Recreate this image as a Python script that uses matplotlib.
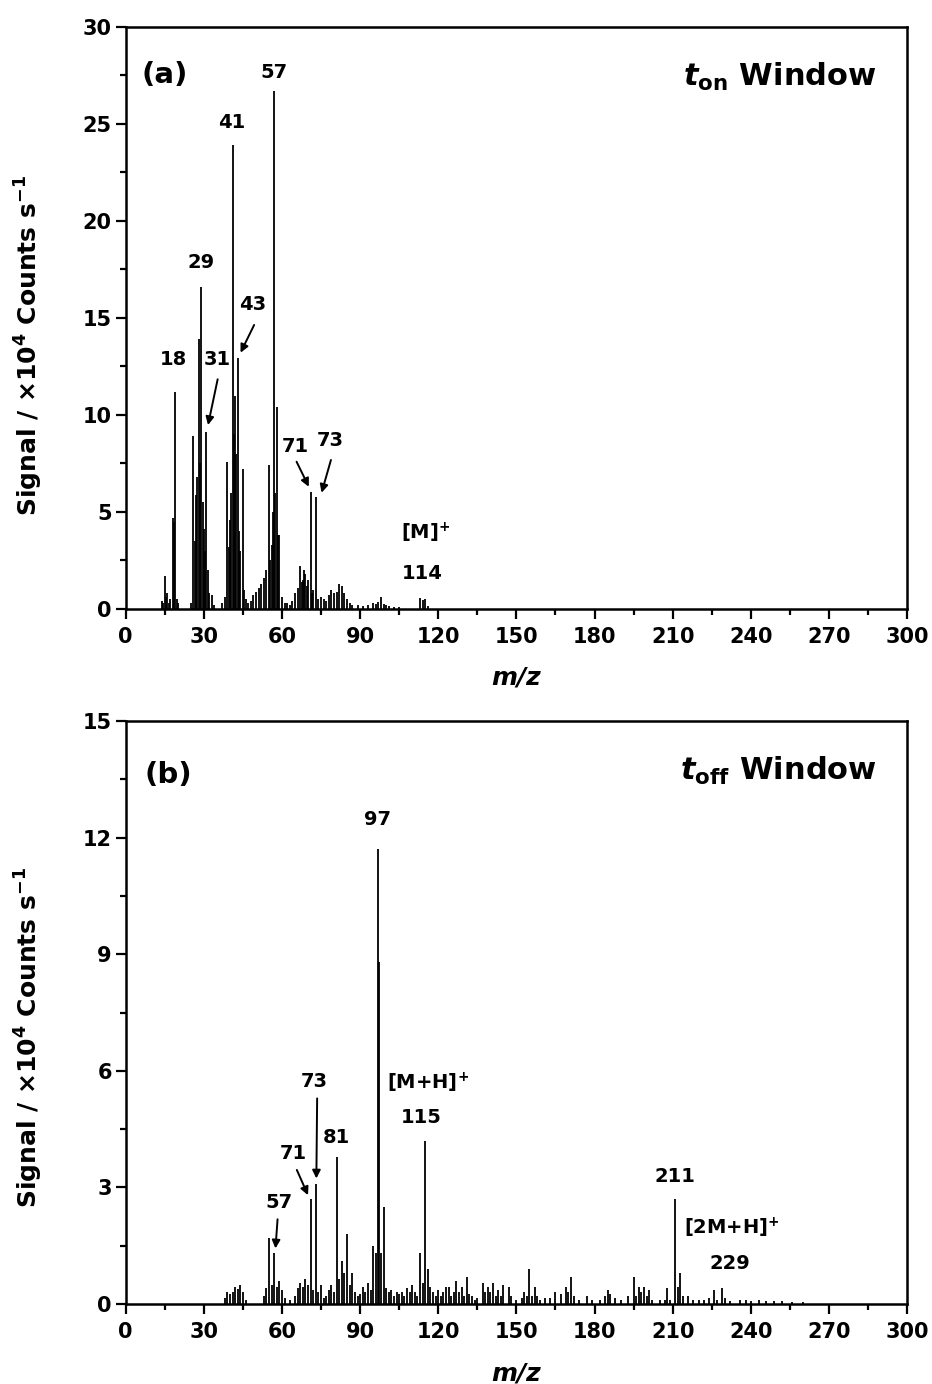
import matplotlib
matplotlib.use("Agg")
import matplotlib.pyplot as plt
from matplotlib.ticker import MultipleLocator

plt.rcParams['font.family'] = ['DejaVu Sans']
plt.rcParams['font.weight'] = 'bold'
plt.rcParams['mathtext.fontset'] = 'custom'
plt.rcParams['mathtext.rm'] = 'DejaVu Sans:bold'
plt.rcParams['mathtext.it'] = 'DejaVu Sans:italic:bold'
plt.rcParams['mathtext.bf'] = 'DejaVu Sans:bold'
plt.rcParams['mathtext.default'] = 'rm'

# ---------------- data: panel (a) t_on window ----------------
mz_a = [14, 14.5, 15, 15.5, 16, 16.5, 17, 18, 18.5, 19, 19.5, 20, 25,
        26, 26.5, 27, 27.5, 28, 28.5, 29, 29.5, 30, 30.5, 31, 31.5, 32, 33, 34,
        37, 38, 39, 39.5, 40, 40.5, 41, 41.5, 42, 42.5, 43, 43.5, 44, 45, 45.5,
        46, 47, 48, 49, 50, 51, 52, 53, 54, 55, 55.5, 56, 56.5, 57, 57.5, 58,
        58.5, 59, 60, 61, 62, 63, 64, 65, 66, 67, 67.5, 68, 68.5, 69, 69.5, 70,
        71, 71.5, 72, 73, 74, 75, 76, 77, 78, 79, 80, 81, 82, 83, 84, 85, 86,
        87, 89, 91, 93, 95, 96, 97, 98, 99, 100, 101, 103, 105, 113, 114, 115,
        116]
sig_a = [0.4, 0.3, 1.7, 0.6, 0.8, 0.3, 0.5, 4.7, 4.5, 11.2, 0.5, 0.3, 0.3,
         8.9, 3.5, 5.9, 6.8, 13.9, 7.5, 16.6, 5.5, 4.1, 3.0, 9.1, 2.0, 0.8, 0.7, 0.2,
         0.3, 0.6, 7.6, 3.2, 4.6, 6.0, 23.9, 9.0, 11.0, 8.0, 12.95, 4.0, 3.0, 7.2, 1.0,
         0.5, 0.3, 0.4, 0.7, 0.9, 1.1, 1.3, 1.6, 2.0, 7.4, 2.5, 3.3, 5.0, 26.7, 6.0, 10.4,
         3.8, 3.8, 0.6, 0.3, 0.3, 0.2, 0.4, 0.8, 1.1, 2.2, 1.4, 1.5, 2.0, 1.8, 1.2, 1.5,
         6.05, 0.8, 1.0, 5.75, 0.5, 0.6, 0.5, 0.4, 0.7, 1.0, 0.8, 0.9, 1.3, 1.2, 0.8, 0.5, 0.3,
         0.2, 0.2, 0.15, 0.2, 0.3, 0.25, 0.35, 0.6, 0.25, 0.2, 0.15, 0.1, 0.1, 0.55, 0.45, 0.5,
         0.15]

# ---------------- data: panel (b) t_off window ----------------
mz_b = [38, 39, 40, 41, 42, 43, 44, 45, 46, 53, 54, 55, 56, 57, 58, 59, 60, 61,
        63, 65, 66, 67, 68, 69, 70, 71, 72, 73, 74, 75, 76, 77, 78, 79, 80, 81,
        82, 83, 84, 85, 86, 87, 88, 89, 90, 91, 92, 93, 94, 95, 96, 97, 97.3, 98,
        99, 100, 101, 102, 103, 104, 105, 106, 107, 108, 109, 110, 111, 112, 113,
        114, 115, 116, 117, 118, 119, 120, 121, 122, 123, 124, 125, 126, 127, 128,
        129, 130, 131, 132, 133, 134, 135, 137, 138, 139, 140, 141, 142, 143, 144,
        145, 147, 148, 150, 152, 153, 154, 155, 156, 157, 158, 159, 161, 163, 165,
        167, 169, 170, 171, 172, 174, 177, 179, 182, 184, 185, 186, 188, 190, 193,
        195, 196, 197, 198, 199, 200, 201, 202, 205, 207, 208, 209, 211, 212, 213,
        214, 216, 218, 220, 222, 224, 226, 227, 229, 230, 232, 236, 238, 240, 243,
        246, 249, 252, 256, 260]
sig_b = [0.15, 0.3, 0.25, 0.3, 0.45, 0.38, 0.49, 0.3, 0.1, 0.2, 0.4, 1.69, 0.5, 1.30,
         0.45, 0.6, 0.35, 0.15, 0.1, 0.2, 0.4, 0.55, 0.45, 0.65, 0.5, 2.7, 0.35, 3.1,
         0.3, 0.5, 0.15, 0.2, 0.35, 0.5, 0.3, 3.79, 0.65, 1.1, 0.8, 1.8, 0.5, 0.8, 0.3,
         0.2, 0.25, 0.45, 0.3, 0.55, 0.35, 1.49, 1.3, 11.7, 8.8, 1.3, 2.49, 0.4, 0.3,
         0.35, 0.2, 0.3, 0.25, 0.3, 0.2, 0.4, 0.3, 0.5, 0.3, 0.2, 1.3, 0.55, 4.2, 0.9,
         0.45, 0.3, 0.2, 0.37, 0.2, 0.3, 0.45, 0.45, 0.2, 0.3, 0.6, 0.3, 0.45, 0.2, 0.7,
         0.25, 0.2, 0.1, 0.15, 0.55, 0.3, 0.45, 0.3, 0.55, 0.2, 0.35, 0.2, 0.5, 0.45,
         0.2, 0.1, 0.15, 0.3, 0.2, 0.9, 0.2, 0.45, 0.2, 0.1, 0.15, 0.15, 0.3, 0.25, 0.45,
         0.3, 0.7, 0.2, 0.1, 0.2, 0.1, 0.1, 0.2, 0.35, 0.25, 0.15, 0.1, 0.2, 0.7, 0.2,
         0.45, 0.3, 0.45, 0.2, 0.37, 0.1, 0.1, 0.1, 0.4, 0.1, 2.69, 0.45, 0.79, 0.2, 0.2,
         0.1, 0.1, 0.1, 0.15, 0.37, 0.1, 0.40, 0.15, 0.08, 0.1, 0.1, 0.08, 0.1, 0.08,
         0.08, 0.08, 0.06, 0.05]

# peak labels: (text, x, y)
labels_a = [("18", 18.5, 12.85), ("29", 28.9, 17.84), ("41", 40.8, 25.1),
            ("57", 56.9, 27.63), ("31", 35.0, 12.85), ("43", 48.8, 15.67),
            ("71", 65.3, 8.35), ("73", 78.4, 8.66), ("[M]$^{+}$", 115.2, 3.92),
            ("114", 113.7, 1.81)]
arrows_a = [((35.3, 11.84), (31.6, 9.48)), ((49.3, 14.64), (44.1, 13.21)),
            ((65.6, 7.59), (70.3, 6.3)), ((78.8, 7.68), (75.2, 5.99))]

labels_b = [("97", 96.8, 12.46), ("[M+H]$^{+}$", 115.9, 5.7), ("115", 113.6, 4.79),
            ("81", 81.0, 4.29), ("73", 72.2, 5.72), ("71", 64.2, 3.86),
            ("57", 58.8, 2.61), ("211", 210.7, 3.29), ("[2M+H]$^{+}$", 232.9, 1.96),
            ("229", 231.8, 1.05)]
arrows_b = [((73.5, 5.29), (73.2, 3.23)), ((65.7, 3.45), (70.0, 2.8)),
            ((58.3, 2.18), (57.5, 1.43))]

fig = plt.figure(figsize=(9.32, 13.84), dpi=100)
ax_a = fig.add_axes([0.1349, 0.5600, 0.8383, 0.4205])
ax_b = fig.add_axes([0.1349, 0.0578, 0.8383, 0.4212])

def style(ax, ymax, ymaj, ymin, ylab_y):
    ax.set_xlim(0, 300)
    ax.set_ylim(0, ymax)
    ax.xaxis.set_major_locator(MultipleLocator(30))
    ax.xaxis.set_minor_locator(MultipleLocator(15))
    ax.yaxis.set_major_locator(MultipleLocator(ymaj))
    ax.yaxis.set_minor_locator(MultipleLocator(ymin))
    for s in ax.spines.values():
        s.set_linewidth(1.8)
    ax.tick_params(which='major', direction='out', length=7, width=1.6,
                   labelsize=15)
    ax.tick_params(axis='x', which='major', pad=6)
    ax.tick_params(axis='y', which='major', pad=3)
    ax.tick_params(which='minor', direction='out', length=4.5, width=1.6)
    for lab in ax.get_xticklabels() + ax.get_yticklabels():
        lab.set_fontweight('bold')
    ax.set_xlabel('m/z', fontsize=18, fontstyle='italic', fontweight='bold')
    ax.xaxis.set_label_coords(0.5, -0.098)
    ax.set_ylabel(r'Signal / ×10$^{4}$ Counts s$^{-1}$', fontsize=18,
                  fontweight='bold')
    ax.yaxis.set_label_coords(-0.103, ylab_y)

style(ax_a, 30, 5, 2.5, 0.4536)
style(ax_b, 15, 3, 1.5, 0.458)

ax_a.vlines(mz_a, 0, sig_a, colors='black', linewidth=1.3)
ax_b.vlines(mz_b, 0, sig_b, colors='black', linewidth=1.3)

for ax, labs, arrs in ((ax_a, labels_a, arrows_a), (ax_b, labels_b, arrows_b)):
    for t, x, y in labs:
        ax.text(x, y, t, ha='center', va='center', fontsize=14, fontweight='bold')
    for tail, tip in arrs:
        ax.annotate('', xy=tip, xytext=tail,
                    arrowprops=dict(arrowstyle='-|>', color='black', lw=1.4,
                                    mutation_scale=12, shrinkA=0, shrinkB=0))

ax_a.text(15.1, 27.5, '(a)', ha='center', va='center', fontsize=21, fontweight='bold')
ax_b.text(16.2, 13.6, '(b)', ha='center', va='center', fontsize=21, fontweight='bold')
ax_a.text(288.2, 27.4, r'$\mathit{t}_{\mathrm{on}}$ Window', ha='right', va='center',
          fontsize=22, fontweight='bold')
ax_b.text(288.6, 13.72, r'$\mathit{t}_{\mathrm{off}}$ Window', ha='right', va='center',
          fontsize=22, fontweight='bold')

fig.savefig('out.png', dpi=100)
